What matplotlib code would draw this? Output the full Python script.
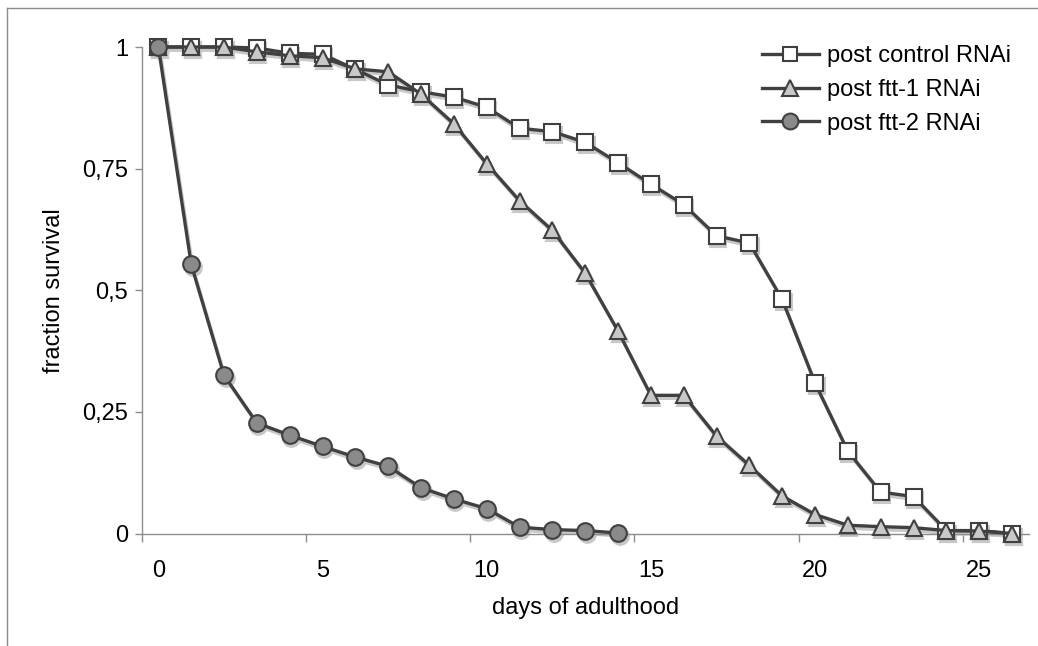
import matplotlib
matplotlib.use("Agg")
import matplotlib.pyplot as plt
from matplotlib.lines import Line2D
from matplotlib.transforms import ScaledTranslation

plt.rcParams['font.family'] = ['Liberation Sans', 'DejaVu Sans']

days_long = list(range(27))
days_short = list(range(15))

control = [1, 1, 1, 0.998, 0.987, 0.985, 0.954, 0.922, 0.908, 0.897, 0.876,
           0.833, 0.826, 0.804, 0.762, 0.718, 0.676, 0.612, 0.597, 0.481, 0.309,
           0.169, 0.085, 0.076, 0.006, 0.006, 0.0]
ftt1 = [1, 1, 1, 0.99, 0.982, 0.978, 0.955, 0.949, 0.903, 0.842, 0.76,
        0.684, 0.623, 0.535, 0.416, 0.284, 0.284, 0.2, 0.14, 0.077, 0.039,
        0.017, 0.014, 0.012, 0.006, 0.005, 0.0]
ftt2 = [1, 0.553, 0.325, 0.227, 0.202, 0.179, 0.157, 0.138, 0.094, 0.071,
        0.051, 0.013, 0.008, 0.006, 0.001]

labels = ["post control RNAi", "post ftt-1 RNAi", "post ftt-2 RNAi"]
yticks = [0, 0.25, 0.5, 0.75, 1]
yticklabels = ["0", "0,25", "0,5", "0,75", "1"]
xticks = [0, 5, 10, 15, 20, 25]
xticklabels = ["0", "5", "10", "15", "20", "25"]
xminor = [-0.5, 4.5, 9.5, 14.5, 19.5, 24.5]

W, H = 1038, 646
fig = plt.figure(figsize=(W / 100, H / 100), dpi=100)
ax = fig.add_axes([142 / W, 1 - 533.5 / H, 886.5 / W, 486.5 / H])

line_col = '#404040'
shadow_col = '#c8c8c8'
shadow = ax.transData + ScaledTranslation(1.5 / 100, -3.0 / 100, fig.dpi_scale_trans)

series = [
    (days_long, control, 's', 'white', 11),
    (days_long, ftt1, '^', '#c8c8c8', 12),
    (days_short, ftt2, 'o', '#8a8a8a', 12),
]
handles = []
for (x, y, m, fc, ms), lab in zip(series, labels):
    ax.plot(x, y, color=shadow_col, lw=2.4, marker=m, ms=ms, mfc=shadow_col,
            mec=shadow_col, mew=1.5, transform=shadow, clip_on=False, zorder=2)
for (x, y, m, fc, ms), lab in zip(series, labels):
    h, = ax.plot(x, y, color=line_col, lw=2.4, marker=m, ms=ms, mfc=fc,
                 mec=line_col, mew=1.5, clip_on=False, zorder=3, label=lab)
    handles.append(h)

ax.set_xlim(-0.5, 26.5)
ax.set_ylim(0, 1)
for s in ['top', 'right']:
    ax.spines[s].set_visible(False)
for s in ['left', 'bottom']:
    ax.spines[s].set_color('#8c8c8c')
    ax.spines[s].set_linewidth(1.0)

ax.set_yticks(yticks)
ax.set_yticklabels(yticklabels)
ax.set_xticks(xticks)
ax.set_xticklabels(xticklabels)
ax.set_xticks(xminor, minor=True)
ax.tick_params(axis='x', which='major', length=0, pad=19, labelsize=17)
ax.tick_params(axis='x', which='minor', length=6, color='#8c8c8c', width=1)
ax.tick_params(axis='y', which='major', length=5, color='#8c8c8c', width=1,
               pad=5, labelsize=17)

ax.set_xlabel("days of adulthood", fontsize=17, labelpad=11)
ax.set_ylabel("fraction survival", fontsize=17, labelpad=12)

leg = ax.legend(handles=handles, loc='upper left',
                bbox_to_anchor=(762 / W, 1 - 45 / H), bbox_transform=fig.transFigure,
                frameon=False, fontsize=17, handlelength=2.4, handletextpad=0.34,
                labelspacing=0.5, borderaxespad=0, borderpad=0, markerscale=0.95)

fig.add_artist(Line2D([7 / W, 7 / W], [0, 1 - 8 / H], transform=fig.transFigure,
                      color='#8c8c8c', lw=1))
fig.add_artist(Line2D([7 / W, 1], [1 - 8 / H, 1 - 8 / H], transform=fig.transFigure,
                      color='#8c8c8c', lw=1))

fig.savefig("out.png", dpi=100)
